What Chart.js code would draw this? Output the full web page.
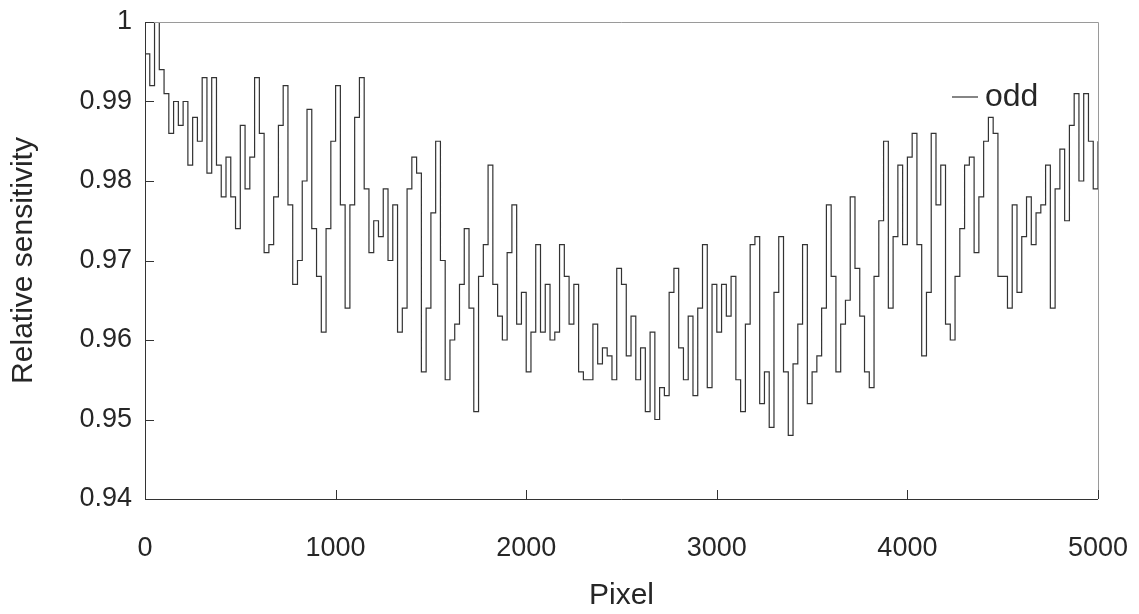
<!DOCTYPE html>
<html lang="en">
<head>
<meta charset="UTF-8">
<title>Relative sensitivity (odd)</title>
<script src="https://cdn.jsdelivr.net/npm/chart.js@4/dist/chart.umd.min.js"></script>
<style>
    body { margin: 0; background: #fff; }
    #wrap { width: 1139px; height: 614px; }
</style>
</head>
<body>
<div id="wrap"><canvas id="myChart" width="1139" height="614"></canvas></div>
<script>
// sample positions along the sensor (pixel index)
const pixels = [
    0, 25, 50, 75, 100, 125, 150, 175, 200, 225, 250, 275, 300, 325, 350, 375, 400, 425, 450, 475,
    500, 525, 550, 575, 600, 625, 650, 675, 700, 725, 750, 775, 800, 825, 850, 875, 900, 925, 950, 975,
    1000, 1025, 1050, 1075, 1100, 1125, 1150, 1175, 1200, 1225, 1250, 1275, 1300, 1325, 1350, 1375, 1400, 1425, 1450, 1475,
    1500, 1525, 1550, 1575, 1600, 1625, 1650, 1675, 1700, 1725, 1750, 1775, 1800, 1825, 1850, 1875, 1900, 1925, 1950, 1975,
    2000, 2025, 2050, 2075, 2100, 2125, 2150, 2175, 2200, 2225, 2250, 2275, 2300, 2325, 2350, 2375, 2400, 2425, 2450, 2475,
    2500, 2525, 2550, 2575, 2600, 2625, 2650, 2675, 2700, 2725, 2750, 2775, 2800, 2825, 2850, 2875, 2900, 2925, 2950, 2975,
    3000, 3025, 3050, 3075, 3100, 3125, 3150, 3175, 3200, 3225, 3250, 3275, 3300, 3325, 3350, 3375, 3400, 3425, 3450, 3475,
    3500, 3525, 3550, 3575, 3600, 3625, 3650, 3675, 3700, 3725, 3750, 3775, 3800, 3825, 3850, 3875, 3900, 3925, 3950, 3975,
    4000, 4025, 4050, 4075, 4100, 4125, 4150, 4175, 4200, 4225, 4250, 4275, 4300, 4325, 4350, 4375, 4400, 4425, 4450, 4475,
    4500, 4525, 4550, 4575, 4600, 4625, 4650, 4675, 4700, 4725, 4750, 4775, 4800, 4825, 4850, 4875, 4900, 4925, 4950, 4975,
    5000
];

// relative sensitivity
const oddSensitivity = [
    0.996, 0.992, 1.000, 0.994, 0.991, 0.986, 0.990, 0.987, 0.990, 0.982, 0.988, 0.985, 0.993, 0.981, 0.993, 0.982,
    0.978, 0.983, 0.978, 0.974, 0.987, 0.979, 0.983, 0.993, 0.986, 0.971,
    0.972, 0.978, 0.987, 0.992, 0.977, 0.967, 0.970, 0.980, 0.989, 0.974, 0.968, 0.961, 0.974, 0.985, 0.992, 0.977,
    0.964, 0.977, 0.988, 0.993, 0.979, 0.971, 0.975, 0.973, 0.979,
    0.970, 0.977, 0.961, 0.964, 0.979, 0.983, 0.981, 0.956, 0.964, 0.976, 0.985, 0.970, 0.955, 0.960, 0.962, 0.967,
    0.974, 0.964, 0.951, 0.968, 0.972, 0.982, 0.967, 0.963, 0.960,
    0.971, 0.977, 0.962, 0.966, 0.956, 0.961, 0.972, 0.961, 0.967, 0.960, 0.961, 0.972, 0.968, 0.962, 0.967, 0.956,
    0.955, 0.955, 0.962, 0.957, 0.959, 0.958, 0.955, 0.969, 0.967,
    0.958, 0.963, 0.955, 0.959, 0.951, 0.961, 0.950, 0.954, 0.953, 0.966, 0.969, 0.959, 0.955, 0.963, 0.953, 0.964,
    0.972, 0.954, 0.967, 0.961, 0.967, 0.963, 0.968, 0.955, 0.951,
    0.962, 0.972, 0.973, 0.952, 0.956, 0.949, 0.966, 0.973, 0.956, 0.948, 0.957, 0.962, 0.972, 0.952, 0.956, 0.958,
    0.964, 0.977, 0.968, 0.956, 0.962, 0.965, 0.978, 0.969, 0.963, 0.956,
    0.954, 0.968, 0.975, 0.985, 0.964, 0.973, 0.982, 0.972, 0.983, 0.986, 0.972, 0.958, 0.966, 0.986, 0.977, 0.982,
    0.962, 0.960, 0.968, 0.974, 0.982, 0.983, 0.971, 0.978, 0.985,
    0.988, 0.986, 0.968, 0.968, 0.964, 0.977, 0.966, 0.973, 0.978, 0.972, 0.976, 0.977, 0.982, 0.964, 0.979, 0.984,
    0.975, 0.987, 0.991, 0.980, 0.991, 0.985, 0.979, 0.985
];

const xTicks = [0, 1000, 2000, 3000, 4000, 5000];
const yTicks = [0.94, 0.95, 0.96, 0.97, 0.98, 0.99, 1];

const fontFamily = "'Liberation Sans', Arial, sans-serif";
const textColor = '#262626';

// box around the plot and the short inward tick marks
const framePlugin = {
    id: 'frame',
    afterDatasetsDraw(chart)
    {
        const { ctx, chartArea: a, scales: { x, y } } = chart;
        ctx.save();
        ctx.lineWidth = 1;
        ctx.strokeStyle = '#9a9a9a';
        ctx.beginPath();
        ctx.moveTo(a.left, a.top + 0.5);
        ctx.lineTo(a.right + 0.5, a.top + 0.5);
        ctx.lineTo(a.right + 0.5, a.bottom);
        ctx.stroke();

        ctx.strokeStyle = '#333';
        ctx.beginPath();
        ctx.moveTo(a.left + 0.5, a.top);
        ctx.lineTo(a.left + 0.5, a.bottom + 0.5);
        ctx.lineTo(a.right, a.bottom + 0.5);
        xTicks.forEach(v =>
        {
            const px = Math.round(x.getPixelForValue(v)) + 0.5;
            ctx.moveTo(px, a.bottom);
            ctx.lineTo(px, a.bottom - 9);
        });
        yTicks.forEach(v =>
        {
            const py = Math.round(y.getPixelForValue(v)) + 0.5;
            ctx.moveTo(a.left, py);
            ctx.lineTo(a.left + 9, py);
        });
        ctx.stroke();
        ctx.restore();
    }
};

// legend sits inside the plot, top right
const innerLegend = {
    id: 'innerLegend',
    afterDraw(chart)
    {
        const { ctx, chartArea: a } = chart;
        const ds = chart.data.datasets[0];
        const lx = a.right - 146, ly = a.top + 75;
        ctx.save();
        ctx.strokeStyle = ds.borderColor;
        ctx.lineWidth = 1.2;
        ctx.beginPath();
        ctx.moveTo(lx, ly);
        ctx.lineTo(lx + 26, ly);
        ctx.stroke();
        ctx.fillStyle = textColor;
        ctx.font = '32px ' + fontFamily;
        ctx.textBaseline = 'middle';
        ctx.fillText(ds.label, lx + 33, ly);
        ctx.restore();
    }
};

const ctx = document.getElementById('myChart').getContext('2d');
new Chart(ctx, {
    type: 'line',
    data: {
        datasets: [{
            label: 'odd',
            data: pixels.map((p, i) => ({ x: p, y: oddSensitivity[i] })),
            borderColor: '#333',
            borderWidth: 1.2,
            pointRadius: 0,
            stepped: true,
            fill: false
        }]
    },
    options: {
        responsive: false,
        animation: false,
        layout: { padding: { top: 22, right: 41, left: 0, bottom: 0 } },
        plugins: {
            legend: { display: false },
            tooltip: { enabled: false }
        },
        scales: {
            x: {
                type: 'linear',
                min: 0,
                max: 5000,
                afterBuildTicks: s => { s.ticks = xTicks.map(v => ({ value: v })); },
                afterFit: s =>
                {
                    s.height = 115;
                    s.paddingLeft = 0;
                    s.paddingRight = 0;
                },
                grid: { display: false, drawTicks: false },
                border: { display: false },
                ticks: {
                    padding: 33, color: textColor, font: { size: 27, family: fontFamily },
                    callback: v => String(v)
                },
                title: {
                    display: true, text: 'Pixel', color: textColor,
                    font: { size: 30, family: fontFamily }, padding: { top: 0, bottom: 0 }
                }
            },
            y: {
                type: 'linear',
                min: 0.94,
                max: 1,
                afterBuildTicks: s => { s.ticks = yTicks.map(v => ({ value: v })); },
                afterFit: s =>
                {
                    s.width = 145;
                    s.paddingTop = 0;
                    s.paddingBottom = 0;
                },
                grid: { display: false, drawTicks: false },
                border: { display: false },
                ticks: {
                    padding: 13, color: textColor, font: { size: 27, family: fontFamily },
                    callback: v => String(Math.round(v * 100) / 100)
                },
                title: {
                    display: true, text: 'Relative sensitivity', color: textColor,
                    font: { size: 30, family: fontFamily }, padding: { top: 6, bottom: 0 }
                }
            }
        }
    },
    plugins: [framePlugin, innerLegend]
});
</script>
</body>
</html>
